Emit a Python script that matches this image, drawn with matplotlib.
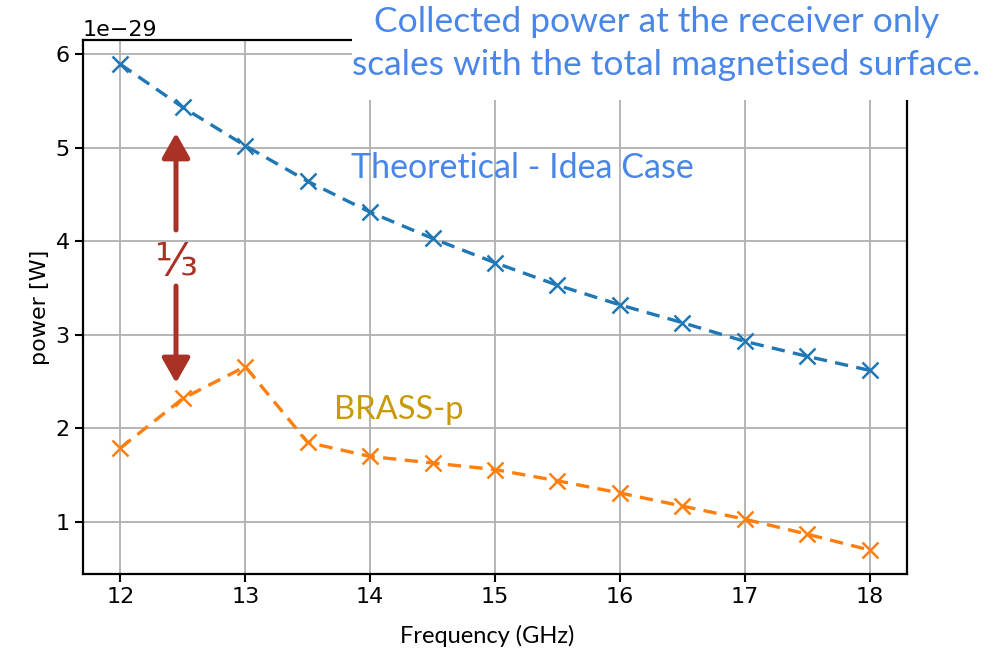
import numpy as np
import matplotlib
matplotlib.use("Agg")
import matplotlib.pyplot as plt
from matplotlib.patches import Rectangle, FancyArrowPatch

# data (units of 1e-29 W)
freq = [12, 12.5, 13, 13.5, 14, 14.5, 15, 15.5, 16, 16.5, 17, 17.5, 18]
theory = [5.89, 5.43, 5.02, 4.64, 4.31, 4.03, 3.77, 3.53, 3.32, 3.13, 2.93, 2.77, 2.62]
brass = [1.79, 2.32, 2.66, 1.85, 1.70, 1.63, 1.56, 1.44, 1.31, 1.17, 1.03, 0.87, 0.70]
scale = 1e-29

BLUE_TXT = "#4a86e8"
GOLD = "#c99a06"
RED = "#a93226"
SANS2 = ["Lato", "DejaVu Sans"]

fig = plt.figure(figsize=(9.96, 6.54), dpi=100)
ax = fig.add_axes([83/996, 1 - 574/654, (907-83)/996, (574-40)/654])

ax.plot(freq, np.array(theory) * scale, ls="--", marker="x", color="#1f77b4",
        lw=2.4, ms=11, mew=1.8, dashes=(4, 2.5))
ax.plot(freq, np.array(brass) * scale, ls="--", marker="x", color="#ff7f0e",
        lw=2.4, ms=11, mew=1.8, dashes=(4, 2.5))

ax.set_xlim(11.7, 18.3)
ax.set_ylim(0.444e-29, 6.15e-29)
ax.set_xticks([12, 13, 14, 15, 16, 17, 18])
ax.grid(True, color="#b0b0b0", lw=1.3)
ax.set_axisbelow(True)
ax.tick_params(labelsize=16, width=1.5, length=6)
ax.yaxis.get_offset_text().set_fontsize(16)
for s in ax.spines.values():
    s.set_linewidth(1.6)

ax.set_ylabel("power [W]", fontsize=16)
fig.text(487/996, 1 - 636/654, "Frequency (GHz)", family=SANS2, fontsize=17,
         ha="center", va="center")

# white box covering top-right of axes
fig.add_artist(Rectangle((352/996, 1 - 100/654), 1, 100/654, transform=fig.transFigure,
                         facecolor="white", edgecolor="none", zorder=5))
fig.text(657/996, 1 - 22/654, "Collected power at the receiver only", family=SANS2,
         fontsize=25.5, color=BLUE_TXT, ha="center", va="center", zorder=6)
fig.text(666/996, 1 - 65/654, "scales with the total magnetised surface.", family=SANS2,
         fontsize=25.5, color=BLUE_TXT, ha="center", va="center", zorder=6)

ax.text(522/996, 1 - 168/654, "Theoretical - Idea Case", transform=fig.transFigure,
        family=SANS2, fontsize=24.5, color=BLUE_TXT, ha="center", va="center")
ax.text(399/996, 1 - 410/654, "BRASS-p", transform=fig.transFigure,
        family=SANS2, fontsize=23.5, color=GOLD, ha="center", va="center")

# 1/3 arrows
for y0, y1 in [(230, 133), (286, 383)]:
    fig.add_artist(FancyArrowPatch((176/996, 1 - y0/654), (176/996, 1 - y1/654),
                                   transform=fig.transFigure,
                                   arrowstyle="-|>,head_width=8.5,head_length=15",
                                   color=RED, lw=3.6, shrinkA=0, shrinkB=0))
fig.text(176/996, 1 - 264/654, "\u2153", fontsize=32, color=RED, ha="center",
         va="center", family=["Open Sans", "DejaVu Sans"])

fig.savefig("out.png", dpi=100)
